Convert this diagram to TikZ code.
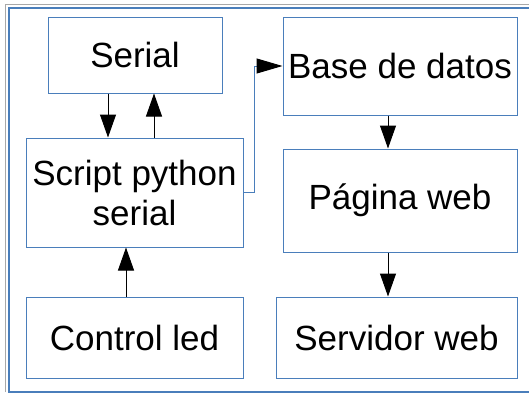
\documentclass[tikz,border=0pt]{standalone}
\usepackage{fontspec}
\setmainfont{Liberation Sans}
\usetikzlibrary{arrows.meta}
\definecolor{boxblue}{HTML}{4A7EBB}
\definecolor{framegray}{HTML}{A8A8A8}
\tikzset{
  blk/.style={draw=boxblue, line width=1pt, fill=white, inner sep=0pt, align=center, font=\fontsize{35}{40}\selectfont},
  arr/.style={draw=black, line width=1pt, -{Triangle[length=23pt,width=16pt]}},
  barr/.style={draw=boxblue, line width=1pt, -{Triangle[length=26pt,width=15pt,fill=black,color=black]}}
}
\begin{document}
\begin{tikzpicture}[x=1pt,y=-1pt]
\useasboundingbox (0,0) rectangle (529,394);
\draw[framegray, line width=1.5pt] (5.5,392) -- (5.5,4.5) -- (540,4.5);
\draw[boxblue, line width=2pt] (540,392) -- (8.5,392) -- (8.5,7.5) -- (540,7.5);
\node[blk, minimum width=174pt, minimum height=76pt] (serial) at (135,55) {Serial};
\node[blk, minimum width=217pt, minimum height=109pt] (script) at (134.5,192.5) {Script python\\serial};
\node[blk, minimum width=217pt, minimum height=81pt] (control) at (134.5,337.5) {Control led};
\node[blk, minimum width=234pt, minimum height=98pt] (base) at (400,66) {Base de datos};
\node[blk, minimum width=234pt, minimum height=103pt] (pagina) at (400,200.5) {Página web};
\node[blk, minimum width=241pt, minimum height=81pt] (servidor) at (396.5,337.5) {Servidor web};
\draw[arr] ([xshift=-27pt]serial.south) -- ([xshift=-27pt]serial.south |- script.north);
\draw[arr] ([xshift=19.5pt]script.north) -- ([xshift=19.5pt]script.north |- serial.south);
\draw[arr] ([xshift=-8.5pt]control.north) -- ([xshift=-8.5pt]control.north |- script.south);
\draw[arr] ([xshift=-12pt]base.south) -- ([xshift=-12pt]base.south |- pagina.north);
\draw[arr] ([xshift=-12pt]pagina.south) -- ([xshift=-12pt]pagina.south |- servidor.north);
\draw[barr] (script.east) -- ++(11,0) |- (base.west);
\end{tikzpicture}
\end{document}
